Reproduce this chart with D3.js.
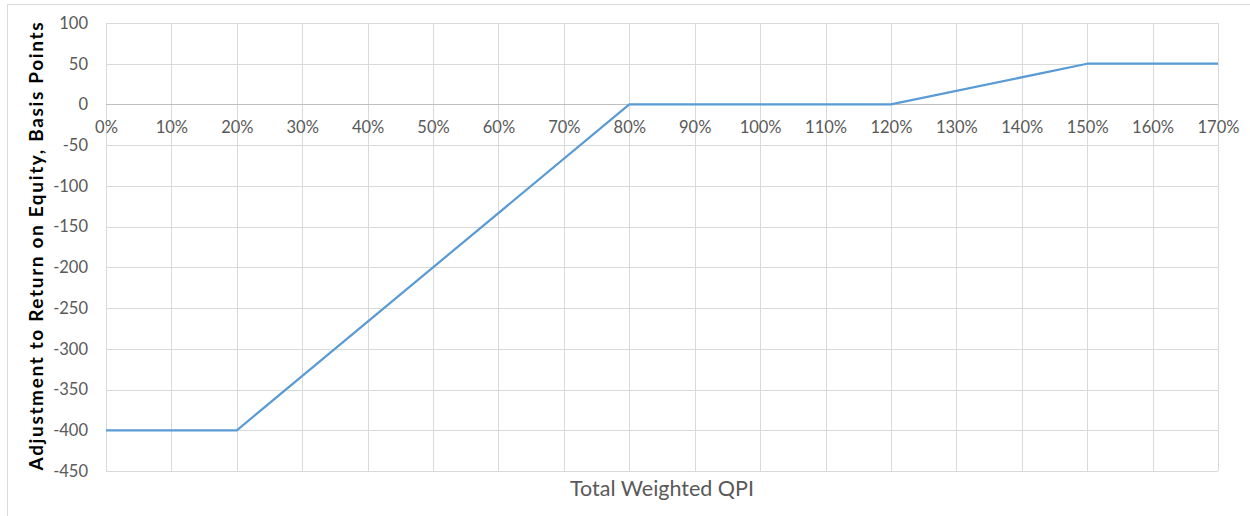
<!DOCTYPE html>
<html>
<head>
<meta charset="utf-8">
<script src="https://cdn.jsdelivr.net/npm/d3@7"></script>
<style>
  html, body { margin: 0; padding: 0; background: #fff; }
  svg { display: block; }
  text { font-family: Lato, "Open Sans", sans-serif; }
</style>
</head>
<body>
<svg id="chart" width="1250" height="516"></svg>
<script>
// Breakpoints of the ROE adjustment schedule (QPI as fraction, adjustment in bp)
const qpi = [0, 0.2, 0.8, 1.2, 1.5, 1.7];
const adjustment = [-400, -400, 0, 0, 50, 50];

const xTicks = d3.range(0, 18).map(i => i / 10);
const yTicks = [100, 50, 0, -50, -100, -150, -200, -250, -300, -350, -400, -450];

const xTitle = "Total Weighted QPI";
const yTitle = "Adjustment to Return on Equity, Basis Points";

const W = 1250, H = 516;
const plot = { left: 106, right: 1218, top: 23, bottom: 471 };

const svg = d3.select("#chart");

// outer chart frame (top and left edges visible)
svg.append("path")
  .attr("d", `M7.5,${H} V4.5 H${W}`)
  .attr("fill", "none")
  .attr("stroke", "#d9d9d9")
  .attr("stroke-width", 1);

const x = d3.scaleLinear().domain([0, 1.7]).range([plot.left, plot.right]);
const y = d3.scaleLinear().domain([-450, 100]).range([plot.bottom, plot.top]);

// horizontal gridlines
svg.append("g")
  .selectAll("line")
  .data(yTicks.filter(d => d !== 0))
  .join("line")
  .attr("x1", plot.left).attr("x2", plot.right)
  .attr("y1", d => Math.round(y(d)) + 0.5).attr("y2", d => Math.round(y(d)) + 0.5)
  .attr("stroke", "#d9d9d9").attr("stroke-width", 1);

// vertical gridlines
svg.append("g")
  .selectAll("line")
  .data(xTicks)
  .join("line")
  .attr("x1", d => Math.round(x(d)) + 0.5).attr("x2", d => Math.round(x(d)) + 0.5)
  .attr("y1", plot.top).attr("y2", plot.bottom)
  .attr("stroke", "#d9d9d9").attr("stroke-width", 1);

// y axis labels (plain hyphen for negatives)
const yAxis = d3.axisLeft(y).tickValues(yTicks).tickSize(0).tickPadding(18)
  .tickFormat(d => String(d));
svg.append("g")
  .attr("transform", `translate(${plot.left},0)`)
  .call(yAxis)
  .call(g => g.select(".domain").remove())
  .call(g => g.selectAll("text")
    .attr("fill", "#595959")
    .style("font-size", "16.5px")
    .style("font-family", "Lato, 'Open Sans', sans-serif"));

// horizontal axis line at zero
svg.append("line")
  .attr("x1", plot.left).attr("x2", plot.right)
  .attr("y1", Math.round(y(0)) + 0.5).attr("y2", Math.round(y(0)) + 0.5)
  .attr("stroke", "#bfbfbf").attr("stroke-width", 1);

// x axis labels, hanging below the zero line
const xAxis = d3.axisBottom(x).tickValues(xTicks).tickSize(0).tickPadding(17)
  .tickFormat(d => Math.round(d * 100) + "%");
svg.append("g")
  .attr("transform", `translate(0,${y(0)})`)
  .call(xAxis)
  .call(g => g.select(".domain").remove())
  .call(g => g.selectAll("text")
    .attr("fill", "#595959")
    .style("font-size", "16.5px")
    .style("font-family", "Lato, 'Open Sans', sans-serif"));

// schedule line
const line = d3.line()
  .x((d, i) => x(qpi[i]))
  .y(d => y(d));

svg.append("path")
  .datum(adjustment)
  .attr("d", line)
  .attr("fill", "none")
  .attr("stroke", "#5b9bd5")
  .attr("stroke-width", 2.25)
  .attr("stroke-linejoin", "round");

// axis titles
svg.append("text")
  .attr("x", (plot.left + plot.right) / 2)
  .attr("y", 496)
  .attr("text-anchor", "middle")
  .attr("fill", "#595959")
  .style("font-size", "21.5px")
  .text(xTitle);

svg.append("text")
  .attr("transform", `translate(43,${(22 + 471) / 2}) rotate(-90)`)
  .attr("text-anchor", "middle")
  .attr("fill", "#000")
  .attr("textLength", 448)
  .attr("lengthAdjust", "spacing")
  .style("font-size", "19px")
  .style("font-weight", "bold")
  .text(yTitle);
</script>
</body>
</html>
